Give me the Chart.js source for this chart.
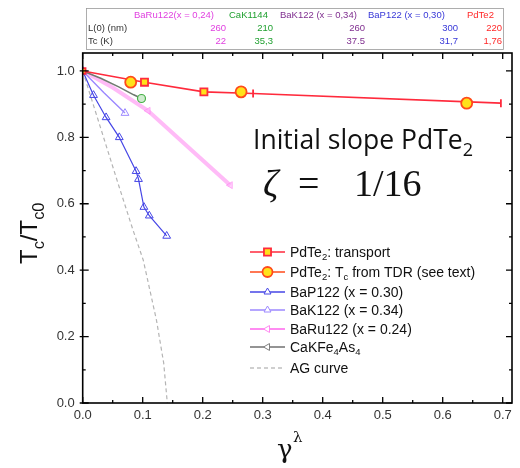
<!DOCTYPE html>
<html>
<head>
<meta charset="utf-8">
<script src="https://cdn.jsdelivr.net/npm/chart.js@4"></script>
<style>
  body { margin: 0; background: #fff; }
  #wrap { width: 520px; height: 468px; }
</style>
</head>
<body>
<div id="wrap"><canvas id="tcChart" width="520" height="468"></canvas></div>
<script>
// values
const xTicks = [0, 0.1, 0.2, 0.3, 0.4, 0.5, 0.6, 0.7];
const yTicks = [0, 0.2, 0.4, 0.6, 0.8, 1.0];

const transportX = [0, 0.103, 0.202, 0.284, 0.697];
const transportY = [1.0, 0.966, 0.937, 0.932, 0.903];
const tdrX = [0.08, 0.264, 0.64];
const tdrY = [0.966, 0.937, 0.903];
const bap122X = [0, 0.018, 0.039, 0.061, 0.089, 0.093, 0.102, 0.111, 0.14];
const bap122Y = [1.0, 0.927, 0.86, 0.80, 0.698, 0.674, 0.59, 0.564, 0.503];
const bak122X = [0, 0.035, 0.0705];
const bak122Y = [1.0, 0.935, 0.873];
const baru122X = [0, 0.05, 0.109, 0.17, 0.246];
const baru122Y = [1.0, 0.95, 0.88, 0.78, 0.656];
const cakX = [0, 0.03, 0.06, 0.085, 0.098];
const cakY = [1.0, 0.978, 0.952, 0.928, 0.917];
const agX = [0, 0.02, 0.04, 0.06, 0.084, 0.101, 0.123, 0.135, 0.141];
const agY = [1.0, 0.885, 0.77, 0.655, 0.52, 0.43, 0.249, 0.12, 0.0];

// table above the plot
const tableCols = ["BaRu122(x = 0,24)", "CaK1144", "BaK122 (x = 0,34)", "BaP122 (x = 0,30)", "PdTe2"];
const tableL0 = ["260", "210", "260", "300", "220"];
const tableTc = ["22", "35,3", "37.5", "31,7", "1,76"];

const pts = (xs, ys) => xs.map((x, i) => ({ x: x, y: ys[i] }));

const RED = "#ff2a3c";
const YELLOW = "#ffe21a";
const BLUE = "#4646e6";
const LAV = "#9c88ff";
const PINK = "rgba(255,120,240,0.5)";
const GRAY = "#707a70";

const datasets = [
  { label: "PdTe2: transport", data: pts(transportX, transportY), borderColor: RED, borderWidth: 1.6,
    backgroundColor: YELLOW, pointStyle: ["rect", "rect", "rect", "line", "line"],
    rotation: [0, 0, 0, 90, 90], pointRadius: [4, 5, 5, 4, 4], pointBorderWidth: 1.8, order: 1 },
  { label: "PdTe2: Tc from TDR (see text)", data: pts(tdrX, tdrY), showLine: false, borderColor: "#ff4a1a",
    backgroundColor: YELLOW, pointStyle: "circle", pointRadius: 5.5, pointBorderWidth: 1.8, order: 0 },
  { label: "BaP122 (x = 0.30)", data: pts(bap122X, bap122Y), borderColor: BLUE, borderWidth: 1.2,
    backgroundColor: "rgba(255,255,255,0)", pointStyle: "triangle", pointRadius: 4.5, pointBorderWidth: 1, order: 3 },
  { label: "BaK122 (x = 0.34)", data: pts(bak122X, bak122Y), borderColor: LAV, borderWidth: 1.4,
    backgroundColor: "rgba(255,255,255,0)", pointStyle: "triangle", pointRadius: [0, 0, 4.5], pointBorderWidth: 1, order: 4 },
  { label: "BaRu122 (x = 0.24)", data: pts(baru122X, baru122Y), borderColor: PINK, borderWidth: 4,
    backgroundColor: "rgba(255,180,250,0.6)", pointStyle: "triangle", rotation: -90, pointRadius: [0, 0, 4, 0, 4],
    pointBorderWidth: 1, order: 5 },
  { label: "CaKFe4As4", data: pts(cakX, cakY), borderColor: GRAY, borderWidth: 1.6,
    backgroundColor: "#cfeccf", pointBorderColor: "#48b048", pointStyle: "circle", pointRadius: [0, 0, 0, 0, 4],
    pointBorderWidth: 1.2, order: 2 },
  { label: "AG curve", data: pts(agX, agY), borderColor: "#b4b4b4", borderWidth: 1.2, borderDash: [4, 3],
    pointRadius: 0, order: 6 }
];

// legend rows: line colour, marker, text parts
const legendRows = [
  { color: RED, marker: { pointStyle: "rect", radius: 5, border: RED, fill: YELLOW, bw: 1.8 },
    parts: [["PdTe"], ["2", "sub"], [": transport"]] },
  { color: "#ff4a1a", marker: { pointStyle: "circle", radius: 5, border: "#ff4a1a", fill: YELLOW, bw: 1.8 },
    parts: [["PdTe"], ["2", "sub"], [": T"], ["c", "sub"], [" from TDR (see text)"]] },
  { color: BLUE, marker: { pointStyle: "triangle", radius: 4, border: BLUE, fill: "#fff", bw: 1 },
    parts: [["BaP122 (x = 0.30)"]] },
  { color: LAV, marker: { pointStyle: "triangle", radius: 4, border: LAV, fill: "#fff", bw: 1 },
    parts: [["BaK122 (x = 0.34)"]] },
  { color: "#ff66ee", marker: { pointStyle: "triangle", rotation: -90, radius: 4, border: "#ff88f0", fill: "#fff", bw: 1 },
    parts: [["BaRu122 (x = 0.24)"]] },
  { color: "#707070", marker: { pointStyle: "triangle", rotation: -90, radius: 4, border: "#808080", fill: "#fff", bw: 1 },
    parts: [["CaKFe"], ["4", "sub"], ["As"], ["4", "sub"]] },
  { color: "#c0c0c0", dash: [4, 3], parts: [["AG curve"]] }
];

function drawRich(ctx, parts, x, y, size, family) {
  let cx = x;
  parts.forEach(p => {
    const kind = p[1];
    const s = kind ? size * 0.68 : size;
    ctx.font = s + "px " + family;
    const dy = kind === "sub" ? size * 0.28 : kind === "sup" ? -size * 0.45 : 0;
    ctx.fillText(p[0], cx, y + dy);
    cx += ctx.measureText(p[0]).width;
  });
  return cx;
}

const decor = {
  id: "decor",
  afterDraw(chart) {
    const ctx = chart.ctx;
    const a = chart.chartArea;
    const xs = chart.scales.x, ys = chart.scales.y;
    ctx.save();

    // frame
    ctx.strokeStyle = "#000";
    ctx.lineWidth = 1.6;
    ctx.strokeRect(a.left, a.top, a.right - a.left, a.bottom - a.top);

    // inward ticks on all four sides
    ctx.lineWidth = 1.3;
    ctx.beginPath();
    for (let i = 0; i <= 14; i++) {
      const v = i * 0.05;
      const px = xs.getPixelForValue(v);
      const len = i % 2 === 0 ? 6 : 3;
      ctx.moveTo(px, a.bottom); ctx.lineTo(px, a.bottom - len);
      ctx.moveTo(px, a.top); ctx.lineTo(px, a.top + len);
    }
    for (let i = 0; i <= 10; i++) {
      const v = i * 0.1;
      const py = ys.getPixelForValue(v);
      const len = i % 2 === 0 ? 6 : 3;
      ctx.moveTo(a.left - (i % 2 === 0 ? 3 : 0), py); ctx.lineTo(a.left + len, py);
      ctx.moveTo(a.right, py); ctx.lineTo(a.right - len, py);
    }
    ctx.stroke();

    // axis titles
    ctx.fillStyle = "#111";
    ctx.textBaseline = "alphabetic";
    ctx.textAlign = "left";
    ctx.font = "26px 'DejaVu Serif'";
    ctx.fillText("\u03b3", 277, 458);
    ctx.font = "15px 'DejaVu Serif'";
    ctx.fillText("\u03bb", 293, 442);

    ctx.save();
    ctx.translate(37, 264);
    ctx.rotate(-Math.PI / 2);
    drawRich(ctx, [["T"], ["c", "sub"], ["/T"], ["c0", "sub"]], 0, 0, 24, "'Liberation Sans'");
    ctx.restore();

    // annotation
    ctx.fillStyle = "#111";
    drawRich(ctx, [["Initial slope PdTe"], ["2", "sub"]], 253, 149, 26.5, "'Open Sans'");
    ctx.font = "italic 38px 'Liberation Serif'";
    ctx.fillText("\u03b6", 263, 196);
    ctx.font = "38px 'Liberation Serif'";
    ctx.fillText("=", 298, 196);
    ctx.fillText("1/16", 354, 196);

    // legend
    const lx0 = 250, lx1 = 285, tx = 290;
    const rowsY = [252, 272, 292, 310, 329, 347, 368];
    legendRows.forEach((r, i) => {
      const y = rowsY[i];
      ctx.strokeStyle = r.color;
      ctx.lineWidth = 1.4;
      ctx.setLineDash(r.dash || []);
      ctx.beginPath(); ctx.moveTo(lx0, y); ctx.lineTo(lx1, y); ctx.stroke();
      ctx.setLineDash([]);
      if (r.marker) {
        const m = r.marker;
        ctx.strokeStyle = m.border;
        ctx.fillStyle = m.fill;
        ctx.lineWidth = m.bw;
        Chart.helpers.drawPoint(ctx, { pointStyle: m.pointStyle, radius: m.radius, rotation: m.rotation || 0, borderWidth: m.bw },
          (lx0 + lx1) / 2, y);
      }
      ctx.fillStyle = "#111";
      ctx.textBaseline = "middle";
      drawRich(ctx, r.parts, tx, y + 1, 14, "'Liberation Sans'");
    });

    // table
    ctx.textBaseline = "alphabetic";
    ctx.strokeStyle = "#9a9a9a";
    ctx.lineWidth = 0.8;
    ctx.strokeRect(86.5, 8.5, 417, 41);
    ctx.font = "9.5px 'Liberation Sans'";
    const colColors = ["#e040e0", "#20a030", "#803090", "#3838d8", "#ff2828"];
    const headX = [134, 229, 280, 368, 467];
    const valX = [226, 273, 365, 458, 502];
    ctx.textAlign = "left";
    tableCols.forEach((t, i) => { ctx.fillStyle = colColors[i]; ctx.fillText(t, headX[i], 18); });
    ctx.fillStyle = "#333";
    ctx.fillText("L(0) (nm)", 88, 31);
    ctx.fillText("Tc (K)", 88, 44);
    ctx.textAlign = "right";
    tableL0.forEach((t, i) => { ctx.fillStyle = colColors[i]; ctx.fillText(t, valX[i], 31); });
    tableTc.forEach((t, i) => { ctx.fillStyle = colColors[i]; ctx.fillText(t, valX[i], 44); });

    ctx.restore();
  }
};

new Chart(document.getElementById("tcChart"), {
  type: "line",
  data: { datasets: datasets },
  options: {
    responsive: false,
    animation: false,
    layout: { padding: { top: 53, right: 8, left: 0, bottom: 0 } },
    plugins: { legend: { display: false }, tooltip: { enabled: false } },
    scales: {
      x: {
        type: "linear", min: 0, max: 0.7155,
        afterBuildTicks: s => { s.ticks = xTicks.map(v => ({ value: v })); },
        afterFit: s => { s.height = 65; },
        grid: { display: false, drawTicks: false },
        border: { display: false },
        ticks: { padding: 5, color: "#333", font: { family: "'Liberation Sans'", size: 13 },
          callback: v => v.toFixed(1), maxRotation: 0 }
      },
      y: {
        type: "linear", min: 0, max: 1.054,
        afterBuildTicks: s => { s.ticks = yTicks.map(v => ({ value: v })); },
        afterFit: s => { s.width = 82.7; },
        grid: { display: false, drawTicks: false },
        border: { display: false },
        ticks: { padding: 8, color: "#333", font: { family: "'Liberation Sans'", size: 13 },
          callback: v => v.toFixed(1) }
      }
    }
  },
  plugins: [decor]
});
</script>
</body>
</html>
